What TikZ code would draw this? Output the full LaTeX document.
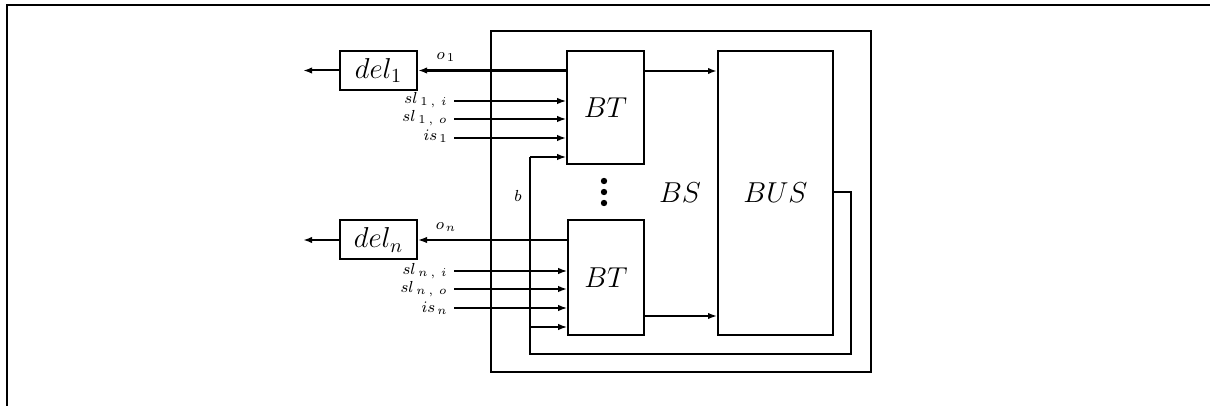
\documentclass[tikz,border=0pt]{standalone}
\usetikzlibrary{arrows.meta}
\newcommand{\sk}[1]{\kern#1pt}
\begin{document}
\begin{tikzpicture}[x=0.5pt,y=-0.5pt,
  box/.style={draw,line width=0.8pt,inner sep=0pt,rectangle},
  arr/.style={line width=0.8pt,-{Latex[length=4.5pt,width=3.2pt]}},
  wire/.style={line width=0.8pt},
  big/.style={font=\fontsize{14.4}{17}\selectfont},
  mid/.style={font=\fontsize{14.4}{17}\selectfont},
  small/.style={font=\fontsize{8}{9}\selectfont,inner sep=0pt}
]
\useasboundingbox (0,0) rectangle (1210,406);
\draw[line width=1pt] (7,406) -- (7,5) -- (1210,5);

% boxes
\node[box,line width=1.2pt,minimum width=190pt,minimum height=170.5pt] (BS) at (681,201.5) {};
\node[box,big,minimum width=38.5pt,minimum height=56.5pt] (BT1) at (605.5,107.5) {$BT$};
\node[box,big,minimum width=38pt,minimum height=57.5pt] (BT2) at (606,277.5) {$BT$};
\node[box,big,line width=1pt,minimum width=57.5pt,minimum height=142pt] (BUS) at (775.5,193) {$BUS$};
\node[box,mid,line width=1pt,minimum width=38.5pt,minimum height=19.5pt] (del1) at (378.5,70.5) {$del_1$};
\node[box,mid,line width=1pt,minimum width=38.5pt,minimum height=19.5pt] (deln) at (378.5,240) {$del_n$};
\node[big] (BSl) at (680,193) {$BS$};

% dots
\fill (604,181) circle (1.6pt);
\fill (604,192) circle (1.6pt);
\fill (604,203) circle (1.6pt);

% outputs of BT to del
\draw[arr,line width=1.1pt] (BT1.west |- del1.east) -- (del1.east);
\draw[arr] (BT2.west |- deln.east) -- (deln.east);
\coordinate (out1) at (303,70.5);
\coordinate (outn) at (303,240);
\draw[arr,line width=1pt] (del1.west) -- (out1);
\draw[arr,line width=1pt] (deln.west) -- (outn);

% inputs
\coordinate (a1) at (454,101);
\coordinate (a2) at (454,119);
\coordinate (a3) at (454,138);
\coordinate (c1) at (454,271);
\coordinate (c2) at (454,289);
\coordinate (c3) at (454,308);
\draw[arr] (a1) -- (a1 -| BT1.west);
\draw[arr] (a2) -- (a2 -| BT1.west);
\draw[arr,line width=1.1pt] (a3) -- (a3 -| BT1.west);
\draw[arr] (c1) -- (c1 -| BT2.west);
\draw[arr,line width=1.1pt] (c2) -- (c2 -| BT2.west);
\draw[arr] (c3) -- (c3 -| BT2.west);

% BT to BUS
\coordinate (t1) at (644,71);
\coordinate (t2) at (644,316);
\draw[arr,line width=1.1pt] (BT1.east |- t1) -- (t1 -| BUS.west);
\draw[arr] (BT2.east |- t2) -- (t2 -| BUS.west);

% bus feedback b
\coordinate (br) at (851,192);
\coordinate (bb) at (851,354);
\coordinate (bc) at (530,354);
\coordinate (b1) at (530,157);
\coordinate (b2) at (530,327);
\draw[wire,line join=miter] (BUS.east |- br) -- (br) -- (bb) -- (bc) -- (b1);
\draw[arr] (b1) -- (b1 -| BT1.west);
\draw[arr] (b2) -- (b2 -| BT2.west);

% labels
\node[small] (lo1) at (446,57) {$o_{\sk{1}1}$};
\node[small] (lon) at (446,227) {$o_{\sk{1}n}$};
\node[small,anchor=east] (l1) at (448,100) {$sl_{\sk{1.5}1\sk{1.5},\sk{3}i}$};
\node[small,anchor=east] (l2) at (448,118) {$sl_{\sk{1.5}1\sk{1.5},\sk{3}o}$};
\node[small,anchor=east] (l3) at (448,136) {$is_{\sk{1}1}$};
\node[small,anchor=east] (l4) at (448,271) {$sl_{\sk{1.5}n\sk{1.5},\sk{3}i}$};
\node[small,anchor=east] (l5) at (448,289) {$sl_{\sk{1.5}n\sk{1.5},\sk{3}o}$};
\node[small,anchor=east] (l6) at (448,308) {$is_{\sk{1}n}$};
\node[small] (lb) at (518,196) {$b$};
\end{tikzpicture}
\end{document}
